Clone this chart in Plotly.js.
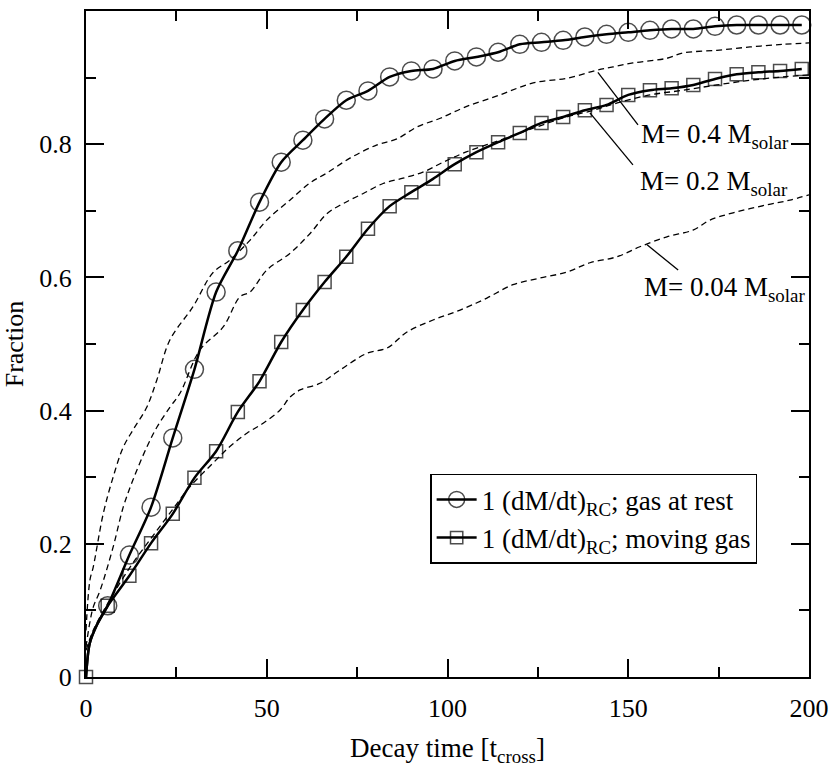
<!DOCTYPE html>
<html>
<head>
<meta charset="utf-8">
<script src="https://cdn.plot.ly/plotly-3.0.1.min.js"></script>
<style>html,body{margin:0;padding:0;background:#fff}#chart{width:830px;height:768px}</style>
</head>
<body>
<div id="chart"></div>
<script>
// accreted fraction vs decay time
const tSolid = [0,1,3,6,12,18,24,30,36,42,48,54,60,66,72,78,84,90,96,102,108,114,120,126,132,138,144,150,156,162,168,174,180,186,192,198];
const fracRest = [0,0.05,0.078,0.107,0.183,0.255,0.359,0.462,0.578,0.640,0.713,0.773,0.806,0.838,0.866,0.880,0.901,0.910,0.913,0.925,0.931,0.938,0.950,0.953,0.956,0.961,0.965,0.968,0.971,0.973,0.973,0.977,0.979,0.979,0.979,0.979];
const fracMoving = [0,0.05,0.078,0.107,0.152,0.201,0.245,0.299,0.339,0.398,0.444,0.503,0.551,0.593,0.631,0.673,0.707,0.728,0.748,0.770,0.788,0.803,0.817,0.832,0.841,0.851,0.859,0.874,0.881,0.884,0.889,0.898,0.905,0.908,0.910,0.913];

const tM04 = [0,1.1,2,4.8,7.5,10.3,13,16.8,19.6,23.2,29.6,35.1,39.8,45.4,50,56.4,62,66.7,73,80.5,86,91.6,98,105,114.5,123.7,133,141.3,145.8,151.3,160.7,165.2,174.5,183.7,192.8,200];
const fracM04 = [0.07,0.146,0.165,0.246,0.30,0.345,0.371,0.405,0.446,0.506,0.556,0.607,0.626,0.656,0.686,0.716,0.742,0.757,0.779,0.799,0.808,0.826,0.839,0.856,0.874,0.892,0.899,0.911,0.916,0.922,0.929,0.937,0.941,0.946,0.950,0.952];

const tM02 = [0,1,2,3.9,7.5,10.3,13,16.8,19.6,23.2,26,31.5,38,42.6,45.4,50,56.4,62,66.7,71.2,76.7,82.2,87.7,93.2,98.8,105,114.5,123.7,133,140.4,147,156,165.2,174.5,183.7,192.8,200];
const fracM02 = [0.045,0.08,0.105,0.13,0.195,0.255,0.296,0.345,0.375,0.405,0.426,0.491,0.526,0.571,0.578,0.611,0.636,0.666,0.696,0.711,0.726,0.741,0.749,0.758,0.773,0.788,0.806,0.824,0.841,0.851,0.862,0.874,0.881,0.889,0.896,0.901,0.904];

const tM004 = [0,2,6.6,12.2,17.7,23.2,28.8,35.1,39.8,44.5,49,53.7,56.4,59.2,64.7,70.3,77.7,83.3,88.8,96,103.5,110.9,118.1,125.6,133,139.4,146.9,153.2,160.7,167.9,172.6,179,188.4,194.7,200];
const fracM004 = [0.04,0.07,0.116,0.165,0.206,0.246,0.286,0.321,0.346,0.366,0.381,0.401,0.420,0.431,0.441,0.461,0.486,0.494,0.518,0.536,0.551,0.569,0.589,0.599,0.608,0.622,0.631,0.646,0.661,0.671,0.686,0.697,0.709,0.716,0.724];

const FONT = "'Liberation Serif', 'Times New Roman', serif";
// markers only every 6 t_cross (extra knee points carry no symbol)
const mk = (sz, skip0) => tSolid.map(t => (t % 6 === 0 && !(skip0 && t === 0)) ? sz : 0);

const dashed = {color:"#000", width:1.3, dash:"6px,4px", shape:"spline", smoothing:1};
const traces = [
  {x:tM04, y:fracM04, type:"scatter", mode:"lines", line:dashed, showlegend:false, hoverinfo:"skip"},
  {x:tM02, y:fracM02, type:"scatter", mode:"lines", line:dashed, showlegend:false, hoverinfo:"skip"},
  {x:tM004, y:fracM004, type:"scatter", mode:"lines", line:dashed, showlegend:false, hoverinfo:"skip"},
  {x:tSolid, y:fracRest, type:"scatter", mode:"lines+markers", cliponaxis:false,
   name:"1 (dM/dt)<sub>RC</sub>; gas at rest",
   line:{color:"#000", width:2.5, shape:"spline", smoothing:0.8},
   marker:{symbol:"circle-open", size:mk(18, true), color:"#000", line:{width:1.5, color:"#000"}}},
  {x:tSolid, y:fracMoving, type:"scatter", mode:"lines+markers", cliponaxis:false,
   name:"1 (dM/dt)<sub>RC</sub>; moving gas",
   line:{color:"#000", width:2.5, shape:"spline", smoothing:0.8},
   marker:{symbol:"square-open", size:mk(13, false), color:"#000", line:{width:1.5, color:"#000"}}}
];

const axisCommon = {
  showline:true, linecolor:"#000", linewidth:2, mirror:"allticks",
  ticks:"inside", ticklen:18, tickwidth:2, tickcolor:"#000",
  showgrid:false, zeroline:false,
  tickfont:{family:FONT, size:26, color:"#000"},
  ticklabelstandoff:7
};

const layout = {
  width:830, height:768,
  paper_bgcolor:"#fff", plot_bgcolor:"#fff",
  margin:{l:86, r:21, t:11, b:91},
  font:{family:FONT, color:"#000", size:26},
  xaxis:Object.assign({}, axisCommon, {
    range:[0,200], dtick:50, tick0:0,
    minor:{ticks:"inside", ticklen:10, tickwidth:2, tickcolor:"#000", dtick:25},
    title:{text:"Decay time [t<sub>cross</sub>]", font:{family:FONT, size:27}, standoff:16}
  }),
  yaxis:Object.assign({}, axisCommon, {
    range:[0,1], dtick:0.2, tick0:0,
    minor:{ticks:"inside", ticklen:10, tickwidth:2, tickcolor:"#000", dtick:0.1},
    title:{text:"Fraction", font:{family:FONT, size:26}, standoff:14}
  }),
  legend:{x:0.476, y:0.305, xanchor:"left", yanchor:"top",
          bordercolor:"#000", borderwidth:1.5, bgcolor:"#fff",
          font:{family:FONT, size:27, color:"#000"}, itemwidth:40, tracegroupgap:0},
  shapes:[
    {type:"line", xref:"x", yref:"y", x0:141.6, y0:0.908, x1:152.7, y1:0.829, line:{color:"#000", width:1.3}},
    {type:"line", xref:"x", yref:"y", x0:139.4, y0:0.847, x1:151.3, y1:0.769, line:{color:"#000", width:1.3}},
    {type:"line", xref:"x", yref:"y", x0:155.2, y0:0.649, x1:163.8, y1:0.611, line:{color:"#000", width:1.3}}
  ],
  annotations:[
    {x:153.0, y:0.812, xref:"x", yref:"y", xanchor:"left", yanchor:"middle", showarrow:false, text:"M= 0.4 M<sub>solar</sub>", font:{family:FONT, size:27}},
    {x:152.7, y:0.742, xref:"x", yref:"y", xanchor:"left", yanchor:"middle", showarrow:false, text:"M= 0.2 M<sub>solar</sub>", font:{family:FONT, size:27}},
    {x:153.8, y:0.583, xref:"x", yref:"y", xanchor:"left", yanchor:"middle", showarrow:false, text:"M= 0.04 M<sub>solar</sub>", font:{family:FONT, size:27}}
  ]
};

Plotly.newPlot("chart", traces, layout, {displayModeBar:false, staticPlot:true});
</script>
</body>
</html>
